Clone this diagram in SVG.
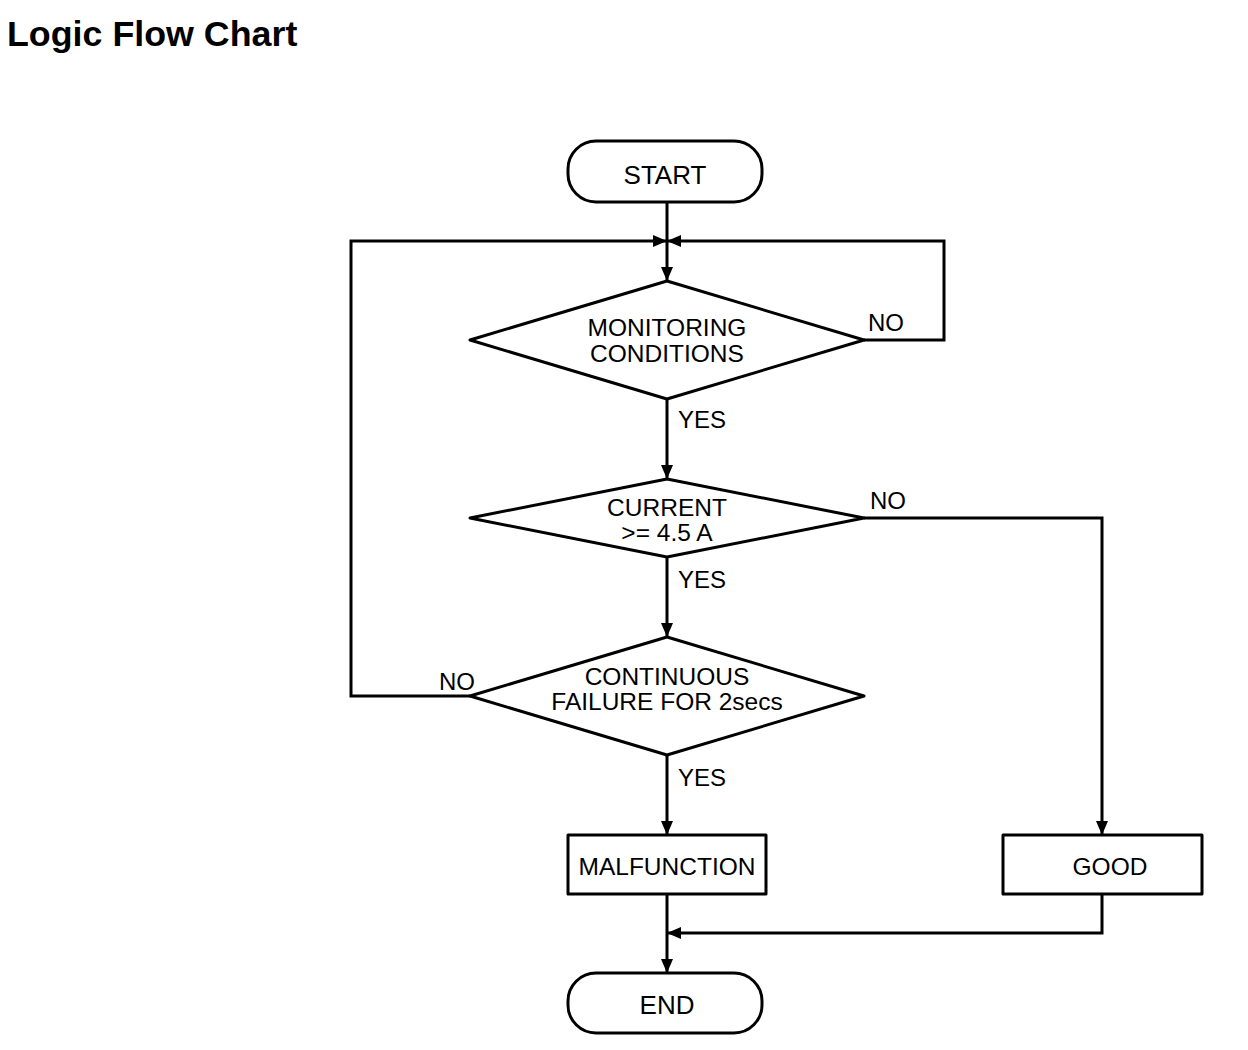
<svg xmlns="http://www.w3.org/2000/svg" width="1248" height="1050" viewBox="0 0 1248 1050">
<defs>
<marker id="ah" viewBox="0 0 14 12" refX="14" refY="6" markerWidth="14" markerHeight="12" markerUnits="userSpaceOnUse" orient="auto">
<path d="M0,0 L14,6 L0,12 Z" fill="#000"/>
</marker>
</defs>
<style>
.shape{fill:#fff;stroke:#000;stroke-width:3;stroke-linejoin:round}
.conn{fill:none;stroke:#000;stroke-width:3}
.t{font-family:"Liberation Sans",Arial,sans-serif;font-size:24.5px;fill:#000;text-anchor:middle}
.lbl{font-family:"Liberation Sans",Arial,sans-serif;font-size:24px;fill:#000}
.big{font-size:26px}
.title{font-family:"Liberation Sans",Arial,sans-serif;font-size:35.8px;font-weight:bold;fill:#000}
</style>
<rect width="1248" height="1050" fill="#fff"/>
<text class="title" x="7" y="46">Logic Flow Chart</text>

<g id="connectors">
<path class="conn" d="M667,202 V281" marker-end="url(#ah)"/>
<path class="conn" d="M470,696 H351 V241 H667" marker-end="url(#ah)"/>
<path class="conn" d="M864,340 H944 V241 H667" marker-end="url(#ah)"/>
<path class="conn" d="M667,399 V479" marker-end="url(#ah)"/>
<path class="conn" d="M667,557 V637" marker-end="url(#ah)"/>
<path class="conn" d="M864,518 H1102 V835" marker-end="url(#ah)"/>
<path class="conn" d="M667,755 V835" marker-end="url(#ah)"/>
<path class="conn" d="M667,894 V973" marker-end="url(#ah)"/>
<path class="conn" d="M1102,894 V933 H667" marker-end="url(#ah)"/>
<text class="lbl" x="868" y="331">NO</text>
<text class="lbl" x="678" y="428">YES</text>
<text class="lbl" x="870" y="509">NO</text>
<text class="lbl" x="678" y="588">YES</text>
<text class="lbl" x="439" y="690">NO</text>
<text class="lbl" x="678" y="786">YES</text>
</g>

<g id="start">
<rect class="shape" x="568" y="141" width="194" height="61" rx="28" ry="28"/>
<text class="t big" x="665" y="184">START</text>
</g>
<g id="monitoring">
<polygon class="shape" points="667,281 864,340 667,399 470,340"/>
<text class="t" x="667" y="336">MONITORING</text>
<text class="t" x="667" y="361.5">CONDITIONS</text>
</g>
<g id="current">
<polygon class="shape" points="667,479 864,518 667,557 470,518"/>
<text class="t" x="667" y="516">CURRENT</text>
<text class="t" x="667" y="541">&gt;= 4.5 A</text>
</g>
<g id="continuous">
<polygon class="shape" points="667,637 864,696 667,755 470,696"/>
<text class="t" x="667" y="685">CONTINUOUS</text>
<text class="t" x="667" y="710">FAILURE FOR 2secs</text>
</g>
<g id="malfunction">
<rect class="shape" x="568" y="835" width="198" height="59"/>
<text class="t" x="667" y="875">MALFUNCTION</text>
</g>
<g id="good">
<rect class="shape" x="1003" y="835" width="199" height="59"/>
<text class="t" x="1110" y="875">GOOD</text>
</g>
<g id="end">
<rect class="shape" x="568" y="973" width="194" height="60" rx="28" ry="28"/>
<text class="t big" x="667" y="1014">END</text>
</g>
</svg>
